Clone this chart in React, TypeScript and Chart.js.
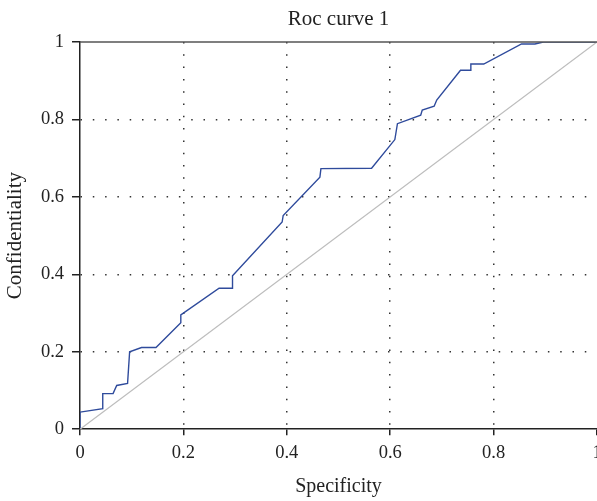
import React, { useEffect, useRef } from "react";
import { Chart, registerables } from "chart.js";

Chart.register(...registerables);

const rocX = [0, 0, 0.044, 0.044, 0.064, 0.071, 0.092, 0.096, 0.119, 0.147, 0.195, 0.195, 0.269, 0.295, 0.295, 0.391, 0.393, 0.464, 0.466, 0.564, 0.609, 0.614, 0.659, 0.662, 0.685, 0.69, 0.736, 0.756, 0.756, 0.781, 0.854, 0.88, 0.896, 1];
const rocY = [0, 0.044, 0.053, 0.092, 0.092, 0.113, 0.118, 0.2, 0.211, 0.211, 0.275, 0.295, 0.364, 0.364, 0.396, 0.535, 0.552, 0.651, 0.673, 0.674, 0.748, 0.789, 0.811, 0.824, 0.834, 0.85, 0.927, 0.927, 0.943, 0.943, 0.995, 0.995, 1.0, 1];
const diagX = [0, 1];
const diagY = [0, 1];
const tickValues = [0, 0.2, 0.4, 0.6, 0.8, 1];

const FONT = "'Liberation Serif', 'DejaVu Serif', serif";

const frame = {
  id: "frame",
  afterDraw(chart: any) {
    const { ctx, chartArea } = chart;
    ctx.save();
    ctx.strokeStyle = "#555";
    ctx.lineWidth = 1.5;
    ctx.beginPath();
    ctx.moveTo(chartArea.left, chartArea.top);
    ctx.lineTo(chartArea.right, chartArea.top);
    ctx.stroke();
    ctx.restore();
  },
};

export default function App() {
  const ref = useRef<HTMLCanvasElement>(null);
  useEffect(() => {
    document.body.style.margin = "0";
    document.body.style.overflow = "hidden";
    const fmt = (v: any) => {
      const n = Number(v);
      const r = Math.round(n * 10) / 10;
      return tickValues.includes(r) ? String(r) : "";
    };
    const gridColor = (c: any) =>
      c.tick && (Math.abs(c.tick.value) < 1e-6 || Math.abs(c.tick.value - 1) < 1e-6) ? "rgba(0,0,0,0)" : "#333";
    const chart = new Chart(ref.current!, {
      type: "line",
      data: {
        datasets: [
          {
            data: diagX.map((x, i) => ({ x, y: diagY[i] })),
            borderColor: "#bdbdbd",
            borderWidth: 1.2,
            pointRadius: 0,
            tension: 0,
          },
          {
            data: rocX.map((x, i) => ({ x, y: rocY[i] })),
            borderColor: "#2f4b9c",
            borderWidth: 1.4,
            pointRadius: 0,
            tension: 0,
          },
        ],
      },
      options: {
        animation: false,
        responsive: false,
        layout: { padding: { left: 0, right: 0, top: 0, bottom: 2 } },
        plugins: {
          legend: { display: false },
          tooltip: { enabled: false },
          title: {
            display: true,
            fullSize: false,
            text: "Roc curve 1",
            color: "#222",
            font: { family: FONT, size: 21, weight: "normal" },
            padding: { top: 6.5, bottom: 10.3 },
          },
        },
        scales: {
          x: {
            type: "linear",
            min: 0,
            max: 1,
            ticks: {
              stepSize: 0.2,
              color: "#222",
              font: { family: FONT, size: 18.5 },
              padding: 7,
              callback: fmt,
              maxRotation: 0,
            },
            grid: {
              color: gridColor,
              tickColor: "#222",
              lineWidth: 1.5,
              tickBorderDash: [],
              tickLength: 6,
              drawTicks: true,
            },
            border: { display: true, color: "#222", width: 1.5, dash: [1.5, 10.8] },
            title: {
              display: true,
              text: "Specificity",
              color: "#222",
              font: { family: FONT, size: 20 },
              padding: { top: 3.6, bottom: 0 },
            },
            afterFit: (s: any) => {
              s.paddingRight = 0;
            },
          },
          y: {
            type: "linear",
            min: 0,
            max: 1,
            ticks: {
              stepSize: 0.2,
              color: "#222",
              font: { family: FONT, size: 18.5 },
              padding: 8,
              callback: fmt,
            },
            grid: {
              color: gridColor,
              tickColor: "#222",
              lineWidth: 1.5,
              tickBorderDash: [],
              tickLength: 8,
              drawTicks: true,
            },
            border: { display: true, color: "#222", width: 1.5, dash: [1.5, 10.8] },
            title: {
              display: true,
              text: "Confidentiality",
              color: "#222",
              font: { family: FONT, size: 21 },
              padding: { top: 3, bottom: 0 },
            },
            afterFit: (s: any) => {
              s.width = 80;
            },
          },
        },
      },
      plugins: [frame],
    });
    return () => chart.destroy();
  }, []);
  return <canvas ref={ref} width={597} height={501} style={{ display: "block" }} />;
}
